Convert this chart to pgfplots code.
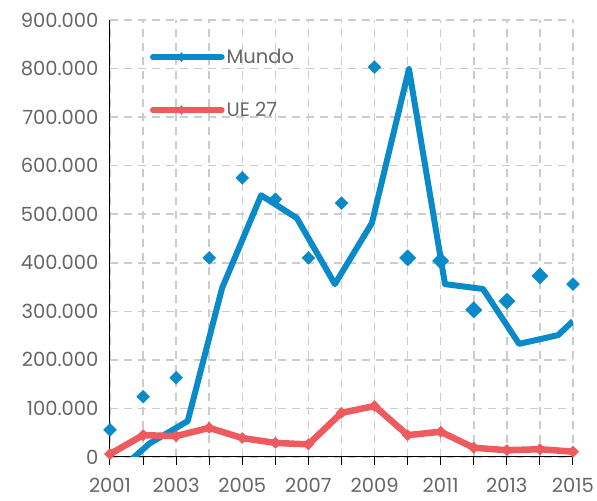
\documentclass[border=0pt]{standalone}
\usepackage{fontspec}
\setmainfont{Poppins}
\usepackage{pgfplots}
\pgfplotsset{compat=1.18}
\definecolor{blueC}{HTML}{0A8AC9}
\definecolor{redC}{HTML}{EE5B5E}
\definecolor{gridC}{HTML}{CCCCCC}
\definecolor{txtC}{HTML}{666666}
\begin{document}
\begin{tikzpicture}
\begin{axis}[
  scale only axis, width=463pt, height=437pt,
  xmin=2001, xmax=2015, ymin=0, ymax=900000,
  axis x line=bottom, axis y line=left,
  axis line style={-, black, line width=1pt},
  xtick={2001,...,2015},
  xticklabels={2001,,2003,,2005,,2007,,2009,,2011,,2013,,2015},
  ytick={0,100000,...,900000},
  scaled y ticks=false,
  /pgf/number format/.cd, fixed, precision=0, 1000 sep={.}, assume math mode=true,
  /pgfplots/.cd,
  grid=major,
  major grid style={gridC, line width=1.5pt, dash pattern=on 8pt off 6pt},
  tick align=outside, major tick length=8pt,
  xtick style={black, line width=1pt},
  ytick style={draw=none},
  tick label style={font=\fontsize{19.5}{22}\selectfont, text=txtC},
  xticklabel style={yshift=-10pt},
  clip=true,
  legend style={at={(0,1)}, anchor=north west, draw=none, fill=none, xshift=37pt, yshift=-25pt,
    font=\fontsize{19.5}{22}\selectfont, text=txtC, row sep=33pt},
  legend cell align=left,
  legend image code/.code={\draw[mark repeat=2,mark phase=2,#1] plot coordinates {(0pt,0pt) (28pt,0pt) (56pt,0pt)};
    \path (0pt,0pt) -- (68pt,0pt);},
]
\addlegendimage{blueC, line width=6.5pt, line cap=round, mark=diamond*, mark size=4.5pt, mark options={line width=0.5pt, blueC}}
\addlegendentry{Mundo}
\addlegendimage{redC, line width=6.5pt, line cap=round, mark=diamond*, mark size=4.5pt, mark options={line width=0.5pt, redC}}
\addlegendentry{UE 27}

% Mundo line
\addplot[blueC, line width=6pt, line join=round, forget plot] coordinates {
(2001.65,-5000) (2002.2,28000) (2003.35,74000) (2004.39,348000) (2005.57,539000)
(2006.65,492000) (2007.8,356000) (2008.92,482000) (2010.04,799000) (2011.13,356000)
(2012.28,346000) (2013.37,233000) (2014.55,251000) (2015.0,280000)};

% Mundo markers
\addplot[blueC, only marks, mark=square*, mark size=4.6pt, mark options={rotate=45, line width=0.3pt, blueC}, forget plot] coordinates {
(2001,56000) (2002,124000) (2003,163000) (2004,410000) (2005,575000) (2006,531000)
(2007,410000) (2008,523000) (2009,803000) (2015,356000)};
\addplot[blueC, only marks, mark=square*, mark size=5.8pt, mark options={rotate=45, line width=0.3pt, blueC}, forget plot] coordinates {
(2010,410000) (2011,404000) (2012,303000) (2013,321000) (2014,373000)};

% UE 27
\addplot[redC, line width=6.5pt, line join=round, mark=square*, mark size=4pt, mark options={rotate=45, line width=0.3pt, redC}, forget plot] coordinates {
(2001,6000) (2002,45000) (2003,43000) (2004,60000) (2005,39000) (2006,29000)
(2007,26000) (2008,91000) (2009,105000) (2010,45000) (2011,52000) (2012,19000)
(2013,14000) (2014,16000) (2015,11000)};

\coordinate (bl) at (rel axis cs:0,0);
\coordinate (tr) at (rel axis cs:1,1);
\end{axis}
\pgfresetboundingbox
\path[use as bounding box] ([shift={(-110pt,-44pt)}]bl) rectangle ([shift={(24pt,20pt)}]tr);
\end{tikzpicture}
\end{document}
